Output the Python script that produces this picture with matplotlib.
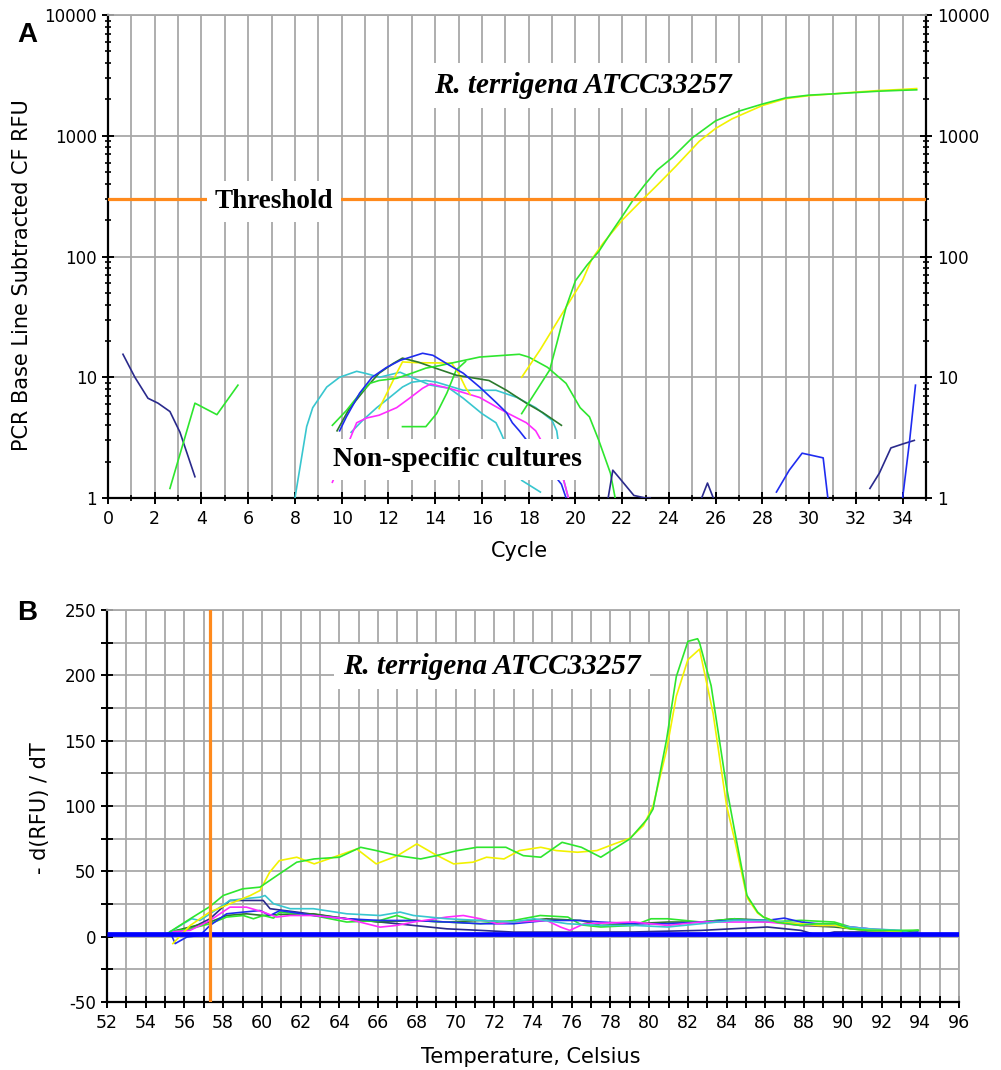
import matplotlib
matplotlib.use("Agg")
import matplotlib.pyplot as plt
from matplotlib import ticker

plt.rcParams['axes.unicode_minus'] = False

# ---------------- Panel A data (cycle, RFU) ----------------
threshold_rfu = 300

cyc_navy1 = [0.64, 1.15, 1.71, 2.14, 2.65, 3.08, 3.72]
rfu_navy1 = [15.5, 10.0, 6.7, 6.1, 5.2, 3.5, 1.5]

cyc_green_early = [2.65, 3.72, 4.66, 5.56]
rfu_green_early = [1.2, 6.1, 4.9, 8.6]

cyc_cyan1 = [8.0, 8.5, 8.76, 9.36, 9.91, 10.64, 11.07, 11.62, 12.5, 13.2, 13.8, 14.6, 15.2, 16.0, 16.6, 16.8, 17.7, 18.5]
rfu_cyan1 = [1.0, 3.9, 5.6, 8.3, 10.0, 11.2, 10.7, 10.0, 11.0, 9.6, 8.6, 8.1, 6.7, 5.0, 4.2, 3.5, 1.4, 1.12]

cyc_cyan2 = [10.4, 10.9, 11.5, 12.05, 12.6, 13.0, 13.6, 14.06, 15.2, 16.6, 17.5, 18.3, 19.0, 19.2, 19.5, 19.7]
rfu_cyan2 = [3.5, 4.4, 5.6, 6.8, 8.3, 9.1, 9.4, 9.1, 7.8, 7.8, 6.8, 5.6, 4.4, 3.6, 1.4, 1.0]

cyc_blue1 = [9.91, 10.2, 10.77, 11.3, 11.9, 12.5, 13.0, 13.46, 13.9, 14.6, 15.2, 15.9, 16.6, 17.05, 17.3, 17.6, 19.4, 19.6]
rfu_blue1 = [3.6, 4.7, 7.4, 10.0, 12.0, 13.8, 14.8, 15.8, 15.2, 12.6, 10.8, 8.3, 6.2, 5.1, 4.2, 3.6, 1.3, 1.0]

cyc_dkgreen = [9.8, 10.3, 11.07, 11.6, 12.2, 12.6, 13.3, 13.9, 14.9, 16.3, 17.05, 17.9, 18.6, 19.4]
rfu_dkgreen = [3.6, 5.4, 8.3, 10.8, 13.0, 14.4, 13.3, 12.1, 10.4, 9.4, 7.8, 6.1, 5.1, 4.0]

cyc_green2 = [9.6, 10.2, 10.8, 11.2, 11.6, 12.35, 13.0, 13.6, 14.2, 14.7, 15.9, 17.6, 18.0, 18.8, 19.6, 20.2, 20.6, 21.0, 21.5, 21.7]
rfu_green2 = [4.0, 5.3, 7.4, 8.9, 9.4, 9.8, 10.8, 11.9, 12.5, 13.1, 14.7, 15.5, 14.7, 12.1, 8.9, 5.6, 4.7, 3.0, 1.6, 1.0]

cyc_green3 = [12.6, 13.6, 14.06, 14.5, 14.9, 15.3]
rfu_green3 = [3.9, 3.9, 5.0, 7.4, 11.5, 13.5]

cyc_yellow_early = [11.6, 12.05, 12.35, 12.6, 13.2, 14.7, 15.0, 15.3, 15.5]
rfu_yellow_early = [5.5, 8.2, 10.8, 13.4, 13.2, 13.1, 10.8, 8.2, 7.2]

cyc_magenta = [9.6, 10.47, 10.64, 11.07, 11.6, 12.35, 12.9, 13.46, 13.8, 14.6, 15.9, 17.05, 17.9, 18.3, 19.5, 19.7]
rfu_magenta = [1.35, 3.5, 4.2, 4.6, 4.85, 5.6, 6.7, 8.1, 8.8, 8.1, 6.8, 5.1, 4.2, 3.6, 1.4, 1.0]

cyc_green_amp = [17.7, 18.9, 19.2, 19.6, 20.0, 20.5, 21.0, 21.5, 22.0, 22.5, 23.0, 23.5, 24.15, 25.0, 26.0, 27.0, 28.0, 29.0, 30.0, 31.0, 32.0, 33.0, 34.0, 34.6]
rfu_green_amp = [5.0, 11.5, 19, 38, 63, 85, 110, 155, 215, 300, 400, 520, 660, 960, 1330, 1600, 1830, 2060, 2170, 2220, 2280, 2340, 2380, 2400]

cyc_yellow_amp = [17.7, 18.5, 19.6, 20.3, 20.7, 21.2, 22.0, 22.9, 23.5, 24.3, 25.3, 26.0, 26.7, 28.0, 29.0, 30.0, 31.0, 32.0, 33.0, 34.0, 34.6]
rfu_yellow_amp = [10, 17, 38, 63, 95, 130, 200, 300, 390, 560, 900, 1150, 1380, 1780, 2030, 2150, 2220, 2300, 2370, 2420, 2460]

cyc_navy2 = [21.4, 21.6, 21.9, 22.5, 23.0, 23.2]
rfu_navy2 = [1.0, 1.7, 1.45, 1.05, 1.0, 1.0]

cyc_navy3 = [25.4, 25.65, 25.9]
rfu_navy3 = [1.0, 1.33, 1.0]

cyc_blue2 = [28.6, 29.15, 29.7, 30.6, 30.8]
rfu_blue2 = [1.12, 1.7, 2.35, 2.15, 1.0]

cyc_navy4 = [32.6, 33.0, 33.5, 34.0, 34.5]
rfu_navy4 = [1.2, 1.6, 2.6, 2.8, 3.0]

cyc_blue3 = [34.0, 34.3, 34.55]
rfu_blue3 = [1.0, 3.0, 8.6]

# ---------------- Panel B data (temperature, -dRFU/dT) ----------------
melt_marker_temp = 57.3
baseline_T = [52, 96]
baseline_val = [2, 2]

T_green_B = [55.1, 56.3, 57.3, 58.0, 59.0, 59.9, 60.9, 61.8, 62.7, 64.0, 65.1, 65.9, 67.0, 68.2, 69.0, 70.1, 71.1, 72.6, 73.5, 74.4, 75.5, 76.5, 77.5, 79.0, 79.9, 80.2, 80.9, 81.4, 82.0, 82.5, 82.6, 83.2, 84.0, 84.4, 85.05, 85.6, 85.9, 86.6, 87.8, 88.7, 89.6, 90.4, 91.3, 92.1, 93.0, 93.9]
val_green_B = [2.3, 13.7, 22.9, 31.5, 36.6, 37.9, 48, 57, 59.5, 60.8, 68.4, 65.9, 62, 59.5, 62, 65.9, 68.4, 68.4, 62, 60.8, 72.2, 68.4, 60.8, 74.8, 90, 97.7, 151, 199, 226, 228, 225, 192, 114, 82, 31.5, 18.8, 15, 11, 8.6, 10, 10, 6, 4.8, 4.8, 4.5, 4.8]

T_yellow_B = [55.4, 56.3, 57.3, 58.35, 59.4, 59.9, 60.4, 60.9, 61.8, 62.7, 63.7, 64.9, 65.9, 67.0, 68.0, 68.9, 69.9, 70.9, 71.6, 72.5, 73.3, 74.4, 75.2, 76.3, 77.3, 78.2, 79.0, 79.7, 80.2, 80.9, 81.4, 82.0, 82.6, 83.3, 84.0, 84.4, 85.05, 85.6, 85.9, 86.6, 87.8, 88.7, 89.6, 90.4, 91.3, 92.1, 93.0]
val_yellow_B = [-5.3, 8.6, 18.8, 25.2, 31.5, 35.3, 49.3, 58.2, 60.8, 55.7, 60.8, 67.1, 55.7, 62, 71, 63.3, 55.7, 57, 60.8, 59.5, 65.9, 68.4, 65.9, 64.6, 65.9, 71, 75.3, 85, 100, 143, 184, 212, 220, 171, 100, 75, 30, 18, 15, 11, 9.9, 8.6, 8.6, 6, 4.8, 4.5, 3.6]

T_cyan_B = [55.26, 55.94, 56.37, 56.8, 57.32, 58.35, 59.04, 59.9, 60.16, 60.6, 61.46, 62.66, 64.38, 66.1, 67.14, 67.83, 69.55, 71.28, 73.0, 74.05, 75.78, 77.5, 79.2, 80.95, 82.67, 84.4, 86.1, 87.84, 89.56, 91.28, 93.0, 93.87]
val_cyan_B = [3.6, 9.9, 13.7, 12.4, 17.5, 27.7, 29, 30.2, 31.5, 25.2, 21.4, 21.4, 17.5, 16.2, 18.8, 16.2, 13.7, 12.4, 11.2, 13.7, 9.9, 8.6, 8.6, 7.4, 9.9, 12.5, 12.5, 9.9, 8.6, 6.1, 4.8, 1.0]

T_magenta_B = [55.26, 56.29, 57.32, 58.35, 59.2, 60.07, 60.76, 61.46, 62.66, 64.38, 66.1, 66.96, 67.83, 69.55, 70.4, 71.28, 72.15, 73.0, 74.7, 75.43, 75.9, 76.64, 79.2, 80.95, 82.67, 84.4, 86.1, 87.84, 89.56, 91.28, 92.66]
val_magenta_B = [3.6, 4.8, 12.4, 22.6, 22.6, 18.8, 15, 16.2, 16.2, 13.7, 7.3, 8.6, 11.2, 15, 16.2, 13.7, 9.9, 11.2, 12.4, 7.3, 4.8, 9.9, 11.2, 8.6, 11.2, 11.2, 11.2, 8.6, 8.6, 6.1, 4.8]

T_navy_B = [55.26, 56.29, 57.32, 58.35, 59.2, 60.07, 60.42, 61.8, 64.38, 66.1, 67.83, 69.55, 71.28, 73.0, 76.45, 79.2, 82.67, 86.1, 87.84, 88.7, 89.56, 91.28, 93.0]
val_navy_B = [3.8, 6.1, 13.7, 27.7, 27.7, 27.7, 21.4, 18.8, 13.7, 11.2, 8.6, 6.0, 4.8, 3.5, 3.5, 3.6, 4.8, 7.4, 4.8, 1.0, 3.6, 3.6, 2.3]

T_blue_B = [55.26, 55.52, 56.12, 56.8, 57.32, 58.18, 59.04, 59.9, 60.42, 60.93, 62.66, 64.38, 66.1, 67.83, 69.55, 71.28, 73.0, 74.7, 76.45, 77.5, 79.2, 80.95, 82.67, 84.4, 86.1, 86.98, 87.84, 89.56, 91.28, 93.0, 93.87]
val_blue_B = [3.6, -5.3, -0.3, 1.0, 8.6, 17.5, 18.8, 20, 16.2, 20, 16.2, 13.7, 12.4, 12.4, 11.2, 9.9, 9.9, 12.4, 12.4, 11.2, 9.9, 9.9, 11.2, 12.5, 12.5, 14.2, 11.2, 8.6, 6.1, 2.3, 3.6]

T_green_low_B = [55.26, 56.29, 57.32, 58.18, 59.04, 59.56, 60.07, 60.6, 60.93, 62.66, 64.38, 66.1, 66.96, 67.83, 69.55, 71.28, 73.0, 74.37, 75.8, 76.5, 77.5, 79.2, 80.1, 80.95, 82.67, 84.4, 86.1, 87.84, 89.56, 90.4, 91.28, 93.87]
val_green_low_B = [3.6, 6.1, 9.9, 15, 16.2, 13.7, 16.2, 14.2, 18.8, 16.2, 11.2, 12.4, 16.2, 12.4, 11.2, 9.9, 12.4, 16.2, 15, 9, 7.4, 8.6, 13.7, 13.7, 11.2, 13.7, 11.2, 12.5, 11.2, 7.4, 4.8, 4.8]

T_dkgreen_B = [55.26, 57.32, 58.18, 59.2, 60.07, 60.93, 62.66, 64.38, 66.1, 67.83, 69.55, 71.28, 73.0, 74.7, 76.45, 77.5, 79.2, 80.95, 82.67, 84.4, 86.1, 87.84, 89.56, 91.28, 93.0, 93.87]
val_dkgreen_B = [3.6, 11.2, 16.2, 17.5, 16.2, 17.0, 17.5, 13.7, 11.2, 12.4, 11.2, 12.4, 11.2, 13.7, 12.4, 8.6, 9.9, 11.2, 11.2, 13.7, 12.5, 8.6, 7.4, 4.8, 3.6, 4.8]

# ---------------- Styles ----------------
C_GREEN = '#2ee62e'
C_YELLOW = '#f2f200'
C_NAVY = '#2a2a8c'
C_BLUE = '#1f2cf0'
C_CYAN = '#38c6cf'
C_MAGENTA = '#ff2cff'
C_DKGREEN = '#2c7a2c'
C_ORANGE = '#ff8a1c'
C_GRID = '#a8a8a8'

W, H = 1001, 1070
fig = plt.figure(figsize=(W / 100, H / 100), dpi=100)
fig.patch.set_facecolor('white')


def px_rect(l, t, r, b):
    return [l / W, 1 - b / H, (r - l) / W, (b - t) / H]


def fpx(x, y):
    return x / W, 1 - y / H


LW = 1.2

# ================= Panel A =================
axA = fig.add_axes(px_rect(108, 15, 926, 498))
axA.set_yscale('log')
axA.set_xlim(0, 35)
axA.set_ylim(1, 10000)
axA.set_axisbelow(True)

pairs_A = [
    (cyc_navy1, rfu_navy1, C_NAVY),
    (cyc_green_early, rfu_green_early, C_GREEN),
    (cyc_cyan1, rfu_cyan1, C_CYAN),
    (cyc_cyan2, rfu_cyan2, C_CYAN),
    (cyc_magenta, rfu_magenta, C_MAGENTA),
    (cyc_green3, rfu_green3, C_GREEN),
    (cyc_yellow_early, rfu_yellow_early, C_YELLOW),
    (cyc_dkgreen, rfu_dkgreen, C_DKGREEN),
    (cyc_green2, rfu_green2, C_GREEN),
    (cyc_blue1, rfu_blue1, C_BLUE),
    (cyc_yellow_amp, rfu_yellow_amp, C_YELLOW),
    (cyc_green_amp, rfu_green_amp, C_GREEN),
    (cyc_navy2, rfu_navy2, C_NAVY),
    (cyc_navy3, rfu_navy3, C_NAVY),
    (cyc_blue2, rfu_blue2, C_BLUE),
    (cyc_navy4, rfu_navy4, C_NAVY),
    (cyc_blue3, rfu_blue3, C_BLUE),
]
for xs, ys, c in pairs_A:
    axA.plot(xs, ys, color=c, lw=LW, zorder=3)

axA.axhline(threshold_rfu, color=C_ORANGE, lw=2.3, zorder=4)

axA.xaxis.set_major_locator(ticker.MultipleLocator(2))
axA.xaxis.set_minor_locator(ticker.MultipleLocator(1))
axA.yaxis.set_major_locator(ticker.FixedLocator([1, 10, 100, 1000, 10000]))
axA.yaxis.set_minor_locator(ticker.LogLocator(base=10, subs=range(2, 10)))
axA.yaxis.set_major_formatter(ticker.FuncFormatter(lambda v, p: f"{int(round(v))}"))
axA.yaxis.set_minor_formatter(ticker.NullFormatter())
axA.grid(True, which='major', axis='y', color=C_GRID, lw=1.3)
axA.grid(True, which='both', axis='x', color=C_GRID, lw=1.3)
axA.tick_params(axis='both', which='major', direction='inout', length=8, width=1.4,
                labelsize=12, colors='black', pad=4)
axA.tick_params(axis='both', which='minor', direction='inout', length=5, width=1.2)
axA.tick_params(axis='y', which='both', left=True, right=True, labelleft=True, labelright=True)
axA.tick_params(axis='x', which='major', labelsize=12.5, pad=5)
for s in ['left', 'right', 'bottom']:
    axA.spines[s].set_linewidth(1.6)
    axA.spines[s].set_color('black')
axA.spines['top'].set_color(C_GRID)
axA.spines['top'].set_linewidth(1.3)

# ================= Panel B =================
axB = fig.add_axes(px_rect(107, 610, 959, 1002))
axB.set_xlim(52, 96)
axB.set_ylim(-50, 250)
axB.set_axisbelow(True)

pairs_B = [
    (T_navy_B, val_navy_B, C_NAVY),
    (T_dkgreen_B, val_dkgreen_B, C_DKGREEN),
    (T_green_low_B, val_green_low_B, C_GREEN),
    (T_blue_B, val_blue_B, C_BLUE),
    (T_magenta_B, val_magenta_B, C_MAGENTA),
    (T_cyan_B, val_cyan_B, C_CYAN),
    (T_yellow_B, val_yellow_B, C_YELLOW),
    (T_green_B, val_green_B, C_GREEN),
]
for xs, ys, c in pairs_B:
    axB.plot(xs, ys, color=c, lw=LW, zorder=3)
axB.plot(baseline_T, baseline_val, color='#0000ff', lw=3.4, zorder=4, solid_capstyle='butt')
axB.axvline(melt_marker_temp, color=C_ORANGE, lw=2.3, zorder=5)

axB.xaxis.set_major_locator(ticker.MultipleLocator(2))
axB.xaxis.set_minor_locator(ticker.MultipleLocator(1))
axB.yaxis.set_major_locator(ticker.MultipleLocator(50))
axB.yaxis.set_minor_locator(ticker.MultipleLocator(25))
axB.grid(True, which='both', color=C_GRID, lw=1.3)
axB.tick_params(axis='both', which='major', direction='inout', length=8, width=1.4,
                labelsize=12, pad=4)
axB.tick_params(axis='both', which='minor', direction='inout', length=8, width=1.4)
axB.tick_params(axis='x', which='major', labelsize=12.5, pad=5)
for s in ['left', 'bottom']:
    axB.spines[s].set_linewidth(1.6)
    axB.spines[s].set_color('black')
for s in ['top', 'right']:
    axB.spines[s].set_color(C_GRID)
    axB.spines[s].set_linewidth(1.3)

# ================= Text =================
lab_font = dict(family='DejaVu Sans', size=15)
fig.text(*fpx(27, 35), 'A', ha='center', va='center', fontsize=20, fontweight='bold',
         family='Liberation Sans')
fig.text(*fpx(27, 613), 'B', ha='center', va='center', fontsize=20, fontweight='bold',
         family='Liberation Sans')
fig.text(*fpx(22, 275), 'PCR Base Line Subtracted CF RFU', rotation=90,
         ha='center', va='center', **lab_font)
fig.text(*fpx(519, 551), 'Cycle', ha='center', va='center', **lab_font)
fig.text(*fpx(40, 808), '- d(RFU) / dT', rotation=90, ha='center', va='center', **lab_font)
fig.text(*fpx(531, 1057), 'Temperature, Celsius', ha='center', va='center', **lab_font)

box = dict(boxstyle='square,pad=0.3', facecolor='white', edgecolor='none')
serif = 'Liberation Serif'
fig.text(*fpx(583, 93), 'R. terrigena ATCC33257', ha='center', va='baseline',
         fontsize=21, fontweight='bold', style='italic', family=serif, bbox=box, zorder=10)
fig.text(*fpx(274, 208), 'Threshold', ha='center', va='baseline',
         fontsize=19.5, fontweight='bold', family=serif, bbox=box, zorder=10)
fig.text(*fpx(457, 466), 'Non-specific cultures', ha='center', va='baseline',
         fontsize=20, fontweight='bold', family=serif, bbox=box, zorder=10)
fig.text(*fpx(492, 674), 'R. terrigena ATCC33257', ha='center', va='baseline',
         fontsize=21, fontweight='bold', style='italic', family=serif, bbox=box, zorder=10)

fig.savefig('out.png', dpi=100, facecolor='white')
